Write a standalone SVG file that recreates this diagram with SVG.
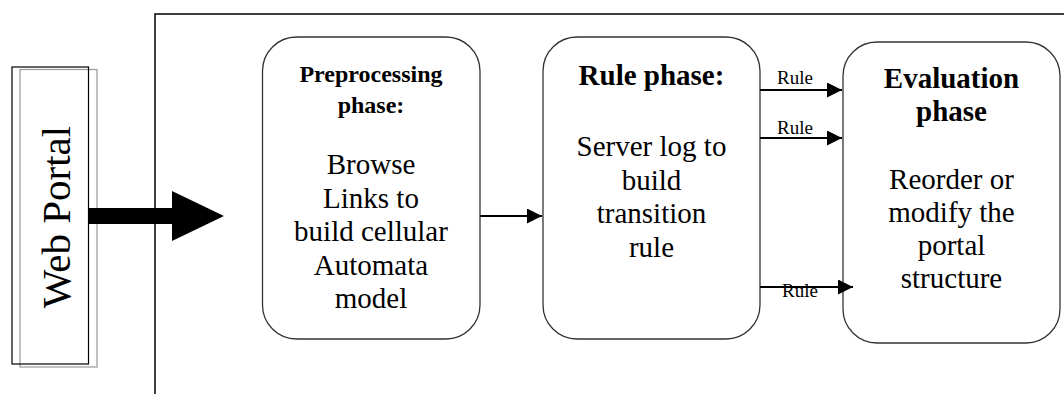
<svg xmlns="http://www.w3.org/2000/svg" width="1064" height="394" viewBox="0 0 1064 394" font-family="'Liberation Serif', 'Times New Roman', 'DejaVu Serif', serif">
<style>
.box{fill:#fff;stroke:#333;stroke-width:1.3}
text{font-family:'Liberation Serif','Times New Roman','DejaVu Serif',serif}
.t{fill:#000;text-anchor:middle}
.b{font-weight:bold}
.body{font-size:29px}
.lbl{font-size:19px;fill:#000}
.conn{stroke:#000;stroke-width:2.2;fill:none}
</style>
<defs>
<marker id="ah" markerWidth="16" markerHeight="15" refX="15" refY="7.5" orient="auto" markerUnits="userSpaceOnUse">
<path d="M0,0 L15,7.5 L0,15 Z" fill="#000"/>
</marker>
</defs>
<rect width="1064" height="394" fill="#fff"/>
<g id="frame">
<path d="M155,394 V14 H1064" fill="none" stroke="#000" stroke-width="1.5"/>
</g>
<g id="web-portal">
<rect x="20" y="69.5" width="77" height="297.5" fill="none" stroke="#999" stroke-width="1.2"/>
<rect x="12" y="67" width="76.5" height="297" fill="none" stroke="#000" stroke-width="1.2"/>
<text class="t" font-size="41" transform="translate(70,217) rotate(-90)">Web Portal</text>
</g>
<g id="preprocessing">
<rect class="box" x="262.5" y="37" width="217.5" height="302" rx="34" ry="34"/>
<text class="t b" font-size="24" x="371" y="82">Preprocessing</text>
<text class="t b" font-size="24" x="371" y="113">phase:</text>
<text class="t body" x="371" y="174">Browse</text>
<text class="t body" x="371" y="207.5">Links to</text>
<text class="t body" x="371" y="241">build cellular</text>
<text class="t body" x="371" y="274.5">Automata</text>
<text class="t body" x="371" y="308">model</text>
</g>
<g id="rule-phase">
<rect class="box" x="543" y="37" width="217" height="302" rx="34" ry="34"/>
<text class="t b" font-size="29" x="651.5" y="85">Rule phase:</text>
<text class="t body" x="651.5" y="156">Server log to</text>
<text class="t body" x="651.5" y="189.5">build</text>
<text class="t body" x="651.5" y="223">transition</text>
<text class="t body" x="651.5" y="256.5">rule</text>
</g>
<g id="evaluation">
<rect class="box" x="843" y="42" width="217" height="301" rx="34" ry="34"/>
<text class="t b" font-size="29" x="951.5" y="88">Evaluation</text>
<text class="t b" font-size="29" x="951.5" y="121">phase</text>
<text class="t body" x="951.5" y="189">Reorder or</text>
<text class="t body" x="951.5" y="222">modify the</text>
<text class="t body" x="951.5" y="255">portal</text>
<text class="t body" x="951.5" y="288">structure</text>
</g>
<g id="connectors">
<polygon points="88.5,208 172,208 172,191 224,216 172,241 172,224 88.5,224" fill="#000"/>
<line class="conn" x1="480" y1="216" x2="542" y2="216" marker-end="url(#ah)"/>
<line class="conn" x1="760" y1="90" x2="842" y2="90" marker-end="url(#ah)"/>
<line class="conn" x1="760" y1="138" x2="842" y2="138" marker-end="url(#ah)"/>
<line class="conn" x1="760" y1="287" x2="853" y2="287" marker-end="url(#ah)"/>
<text class="lbl" x="777" y="84">Rule</text>
<text class="lbl" x="777" y="134">Rule</text>
<text class="lbl" x="782" y="297">Rule</text>
</g>
</svg>
